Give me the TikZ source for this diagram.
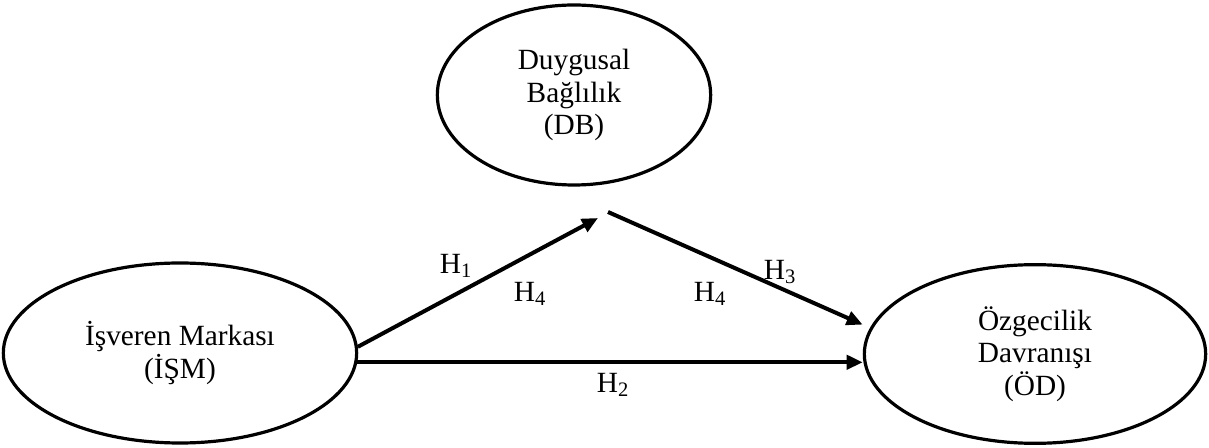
\documentclass[tikz,border=0pt]{standalone}
\usepackage{fontspec}
\setmainfont{Liberation Serif}
\usepackage{tikz}
\usetikzlibrary{arrows.meta,shapes.geometric}
\tikzset{
  construct/.style={draw=black,line width=2.4pt,ellipse,inner sep=0pt,align=center,
    font=\fontsize{22}{24.5}\selectfont},
  hyp label/.style={font=\fontsize{22}{24.5}\selectfont,inner sep=0pt},
  path arrow/.style={-{Triangle[length=12pt,width=10.5pt]},line width=3pt}
}

\begin{document}
\begin{tikzpicture}[x=0.75pt,y=-0.75pt]
\useasboundingbox (0,0) rectangle (1209,448);
\node[construct,minimum width=265pt,minimum height=135pt] (ism) at (180,353) {İşveren Markası\\(İŞM)};
\node[construct,minimum width=205pt,minimum height=135pt] (db) at (574,95) {Duygusal\\Bağlılık\\(DB)};
\node[construct,minimum width=256pt,minimum height=134pt] (od) at (1035,354) {Özgecilik\\Davranışı\\(ÖD)};
\coordinate (toDB) at (598,218);
\coordinate (fromDB) at (608,212);
\draw[path arrow] (ism.2.6) -- (toDB);
\draw[path arrow,shorten >=6pt] (fromDB) -- (od.171.7);
\draw[path arrow] (ism.-3.9) -- (od.west |- ism.-3.9);
\node[hyp label] (h1) at (456,266) {H\textsubscript{1}};
\node[hyp label] (h4a) at (530,294) {H\textsubscript{4}};
\node[hyp label] (h4b) at (710,294) {H\textsubscript{4}};
\node[hyp label] (h3) at (780,272) {H\textsubscript{3}};
\node[hyp label] (h2) at (613,385) {H\textsubscript{2}};
\end{tikzpicture}
\end{document}
